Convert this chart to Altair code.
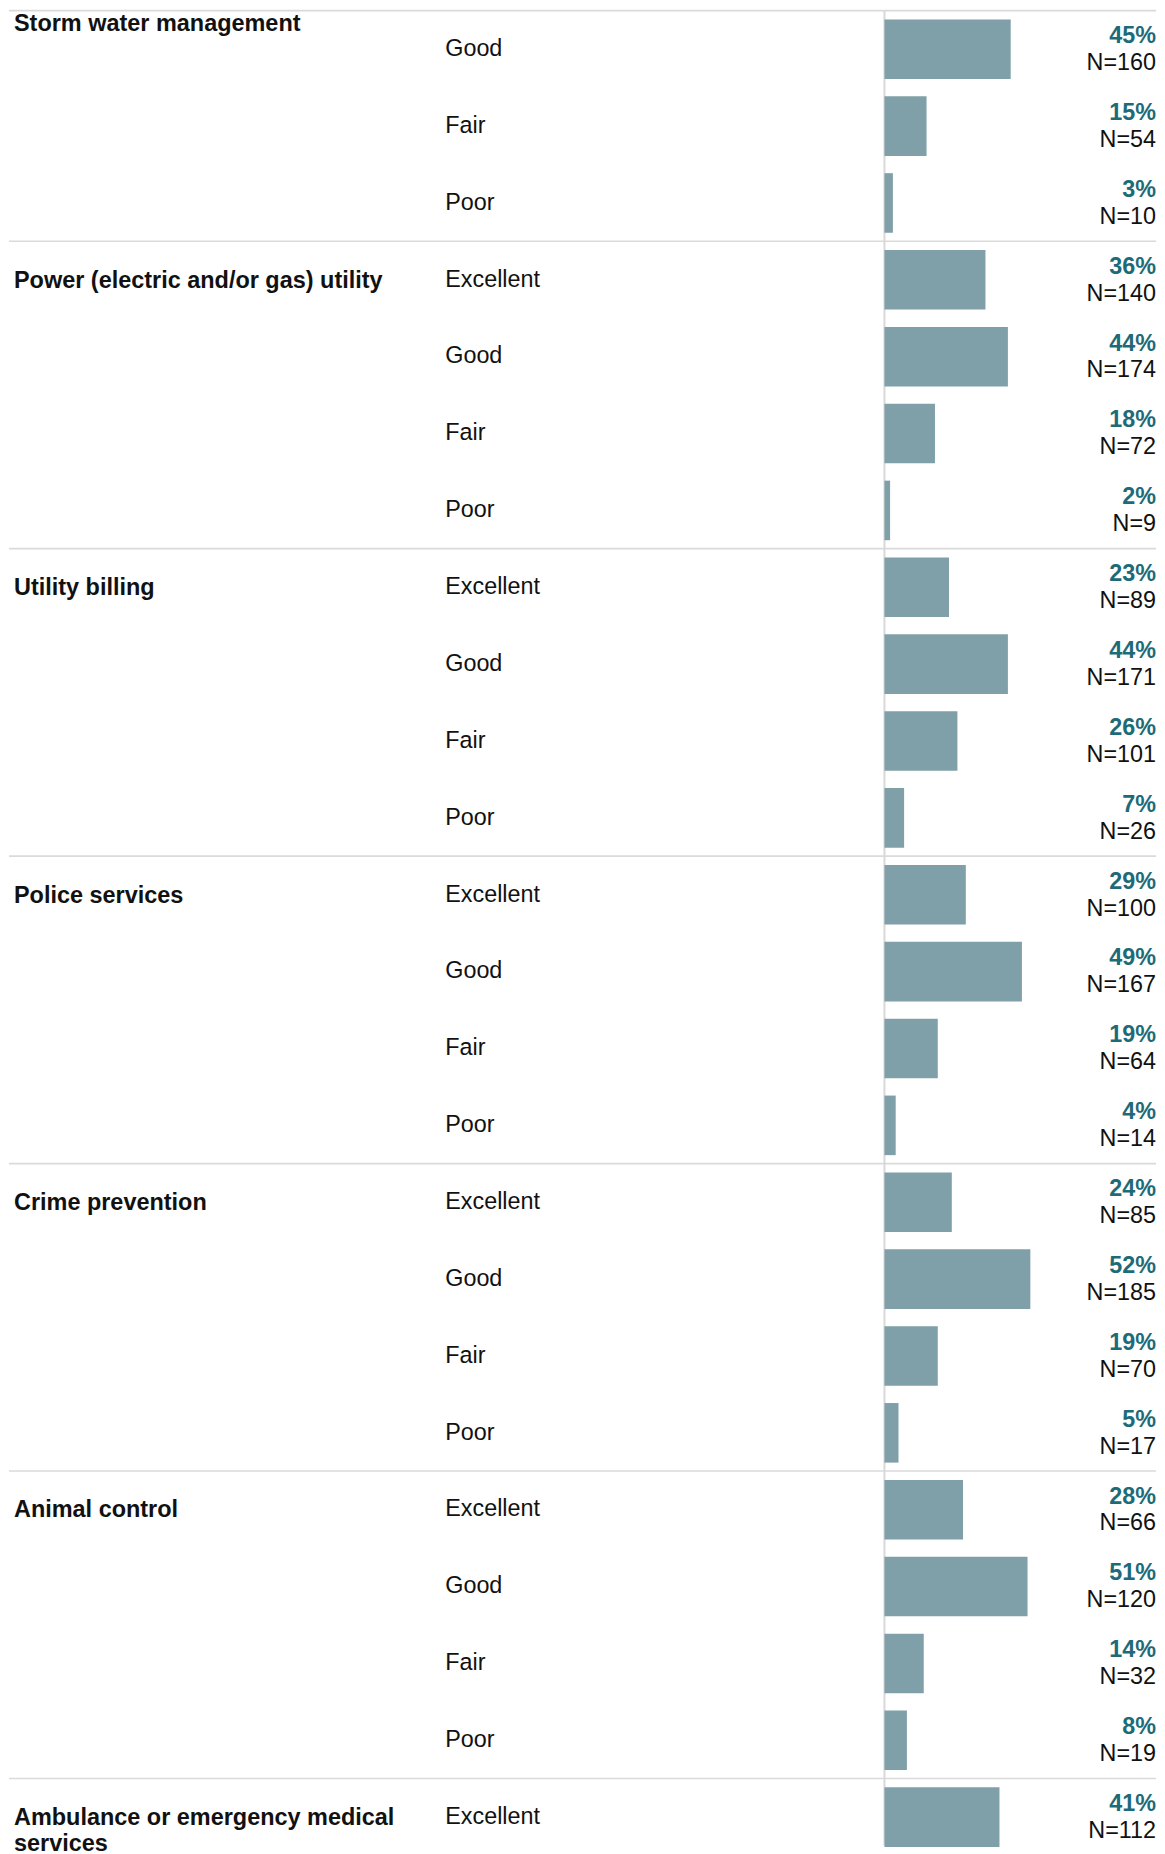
import altair as alt
import pandas as pd

# ---- data ----
groups = [
    "Storm water management",
    "Power (electric and/or gas) utility",
    "Utility billing",
    "Police services",
    "Crime prevention",
    "Animal control",
    "Ambulance or emergency medical\nservices",
]
group_ratings = [
    ["Good", "Fair", "Poor"],
    ["Excellent", "Good", "Fair", "Poor"],
    ["Excellent", "Good", "Fair", "Poor"],
    ["Excellent", "Good", "Fair", "Poor"],
    ["Excellent", "Good", "Fair", "Poor"],
    ["Excellent", "Good", "Fair", "Poor"],
    ["Excellent"],
]
group_pct = [
    [45, 15, 3],
    [36, 44, 18, 2],
    [23, 44, 26, 7],
    [29, 49, 19, 4],
    [24, 52, 19, 5],
    [28, 51, 14, 8],
    [41],
]
group_n = [
    [160, 54, 10],
    [140, 174, 72, 9],
    [89, 171, 101, 26],
    [100, 167, 64, 14],
    [85, 185, 70, 17],
    [66, 120, 32, 19],
    [112],
]

# ---- build tables ----
rows = []
glabels = []
r = 0
for g, rat, pc, nn in zip(groups, group_ratings, group_pct, group_n):
    cut = rat[0] != "Excellent"  # first rows scrolled off the top
    glabels.append({"group": g, "start": r, "cut": cut})
    for a, p, n in zip(rat, pc, nn):
        rows.append({"group": g, "rating": a, "pct": p, "n": n, "row": r})
        r += 1
df = pd.DataFrame(rows)
gdf = pd.DataFrame(glabels)
n_rows = r

W = 1149
STEP = 77
H = 1838
FONT = "Liberation Sans, Arial, Helvetica, sans-serif"
FS = 23.4

yscale = alt.Scale(domain=[0, n_rows], range=[0, STEP * n_rows])
xscale = alt.Scale(domain=[0, 100], range=[877, 1158])

base = alt.Chart(df)

bars = base.transform_calculate(
    y0="datum.row + 0.115", y1="datum.row + 0.89"
).mark_bar(color="#7fa0a8").encode(
    x=alt.X("pct:Q", scale=xscale, axis=None),
    x2=alt.datum(0),
    y=alt.Y("y0:Q", scale=yscale, axis=None),
    y2="y1:Q",
)

rating_txt = base.transform_calculate(yc="datum.row + 0.5").mark_text(
    align="left", baseline="middle", font=FONT, fontSize=FS, color="#111111"
).encode(
    x=alt.value(437),
    y=alt.Y("yc:Q", scale=yscale, axis=None),
    text="rating:N",
)

pct_txt = base.transform_calculate(
    yc="datum.row + 0.5", lab="datum.pct + '%'"
).mark_text(
    align="right", baseline="middle", font=FONT, fontSize=FS,
    fontWeight="bold", color="#1d6b78", dy=-13
).encode(
    x=alt.value(1149),
    y=alt.Y("yc:Q", scale=yscale, axis=None),
    text="lab:N",
)

n_txt = base.transform_calculate(
    yc="datum.row + 0.5", lab="'N=' + datum.n"
).mark_text(
    align="right", baseline="middle", font=FONT, fontSize=FS, color="#111111", dy=14
).encode(
    x=alt.value(1149),
    y=alt.Y("yc:Q", scale=yscale, axis=None),
    text="lab:N",
)

gbase = alt.Chart(gdf)

group_txt = gbase.transform_calculate(
    yc="datum.cut ? datum.start + 0.155 : datum.start + 0.5"
).mark_text(
    align="left", baseline="alphabetic", font=FONT, fontSize=23.5,
    fontWeight="bold", color="#111111", dy=8, lineBreak="\n", lineHeight=26
).encode(
    x=alt.value(5),
    y=alt.Y("yc:Q", scale=yscale, axis=None),
    text="group:N",
)

seps = gbase.mark_rule(color="#dadada", strokeWidth=1.6).encode(
    y=alt.Y("start:Q", scale=yscale, axis=None),
    x=alt.value(0),
    x2=alt.value(W),
)

axis_line = alt.Chart(pd.DataFrame({"z": [0]})).mark_rule(
    color="#d8d8d8", strokeWidth=2
).encode(
    x=alt.X("z:Q", scale=xscale, axis=None),
    y=alt.value(0),
    y2=alt.value(H),
)

chart = alt.layer(
    seps, axis_line, bars, rating_txt, pct_txt, n_txt, group_txt
).properties(
    width=W, height=H, padding=0, background="white"
).configure_view(stroke=None)

chart.save("out.html", embed_options={"renderer": "svg", "actions": False})
